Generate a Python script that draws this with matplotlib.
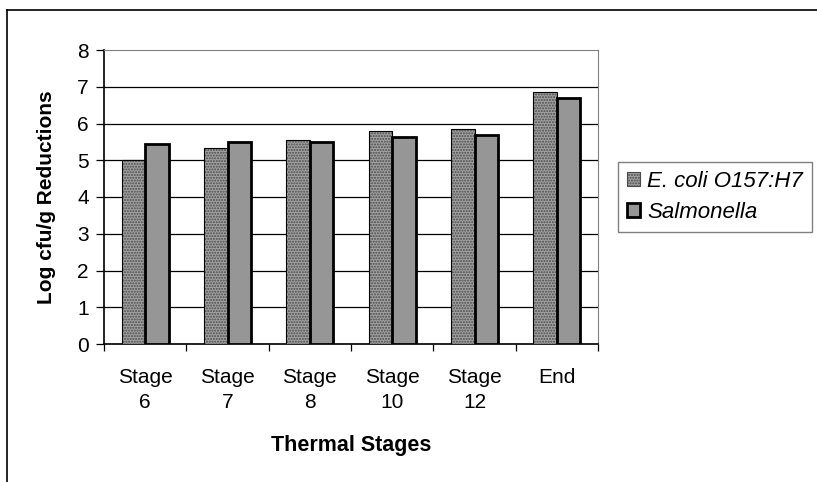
import matplotlib.pyplot as plt
import matplotlib.patches as mpatches
from matplotlib.lines import Line2D
import numpy as np

plt.rcParams['font.family'] = ['Liberation Sans', 'DejaVu Sans']

stages = ['Stage\n6', 'Stage\n7', 'Stage\n8', 'Stage\n10', 'Stage\n12', 'End']
ecoli = [5.02, 5.32, 5.54, 5.79, 5.84, 6.85]
salmonella = [5.44, 5.49, 5.49, 5.63, 5.70, 6.70]

fig = plt.figure(figsize=(8.17, 4.82), dpi=100)
ax = fig.add_axes([104 / 817, 1 - 344 / 482, 494 / 817, 294 / 482])

x = np.arange(len(stages))
w = 0.286
# E. coli: dithered grey fill, thin outline
ax.bar(x - w / 2, ecoli, w, color='#a2a2a2', hatch='......', edgecolor='#4a4a4a', linewidth=0, zorder=3)
ax.bar(x - w / 2, ecoli, w, fill=False, edgecolor='black', linewidth=0.8, zorder=4)
# Salmonella: plain grey, thick outline
ax.bar(x + w / 2, salmonella, w, color='#969696', edgecolor='black', linewidth=2, zorder=3)

ax.set_xlim(-0.5, len(stages) - 0.5)
ax.set_ylim(0, 8)
ax.set_yticks(range(0, 9))
for yv in range(1, 8):
    ax.axhline(yv, color='black', linewidth=0.9, zorder=1)

ax.set_xticks(x)
ax.set_xticklabels(stages, fontsize=15, linespacing=1.45)
ax.set_xticks(np.arange(-0.5, len(stages)), minor=True)
ax.tick_params(axis='x', which='major', length=0, pad=17)
ax.tick_params(axis='x', which='minor', length=5, direction='out', width=0.9)
ax.tick_params(axis='y', length=6, width=0.9, labelsize=15, pad=5)

ax.spines['top'].set_color('#808080')
ax.spines['right'].set_color('#808080')
ax.spines['left'].set_linewidth(1.2)
ax.spines['bottom'].set_linewidth(1.2)

ax.set_xlabel('Thermal Stages', fontsize=15.5, fontweight='bold', labelpad=16)
ax.set_ylabel('Log cfu/g Reductions', fontsize=15, fontweight='bold', labelpad=15)

h1 = mpatches.Patch(facecolor='#a2a2a2', hatch='......', edgecolor='#4a4a4a', linewidth=0.8)
h2 = mpatches.Patch(facecolor='#969696', edgecolor='black', linewidth=2)
leg = fig.legend([h1, h2], ['E. coli O157:H7', 'Salmonella'],
                 loc='upper left', bbox_to_anchor=(618 / 817, 1 - 162 / 482),
                 prop={'style': 'italic', 'size': 16}, frameon=True, fancybox=False,
                 handlelength=0.6, handleheight=0.6, handletextpad=0.3,
                 borderpad=0.4, labelspacing=0.45, borderaxespad=0)
leg.get_frame().set_edgecolor('#606060')
leg.get_frame().set_linewidth(1)

# outer chart border (clipped on right and bottom)
fig.add_artist(Line2D([7 / 817, 1], [1 - 10 / 482, 1 - 10 / 482], color='black', linewidth=1.2))
fig.add_artist(Line2D([7 / 817, 7 / 817], [0, 1 - 10 / 482], color='black', linewidth=1.2))

fig.savefig('out.png', dpi=100)
